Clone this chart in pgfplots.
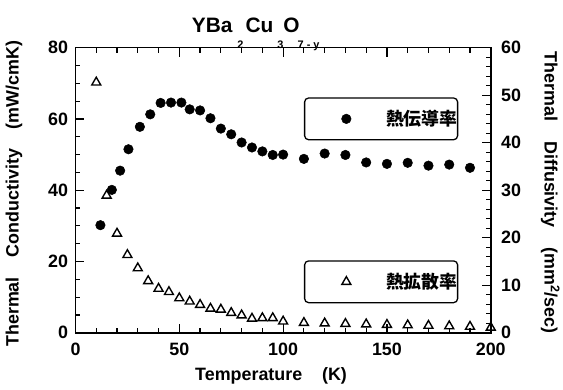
\documentclass[border=0pt]{standalone}
\usepackage{pgfplots}
\pgfplotsset{compat=1.18}
\usepackage{fontspec}
\setmainfont{Liberation Sans}
\newfontfamily\cjk{Noto Sans CJK JP}
\begin{document}
\begin{tikzpicture}
\pgfplotsset{
  common/.style={
    scale only axis, width=418pt, height=287pt,
    at={(0,0)}, anchor=south west,
    xmin=0, xmax=200,
    axis line style={line width=1.6pt},
    tick style={line width=1.2pt, black},
    major tick length=9pt, minor tick length=5pt,
    tick align=inside,
    /pgf/number format/assume math mode=true,
    ticklabel style={font=\bfseries\fontsize{18}{18}\selectfont},
    label style={font=\bfseries\fontsize{18}{18}\selectfont},
  },
  leg/.style={
    legend style={at={(axis description cs:0.5502,#1)}, anchor=north west,
      draw=black, line width=1.3pt, rounded corners=4pt, fill=white,
      inner xsep=0pt, inner ysep=0pt, nodes={inner sep=0pt, draw=none, fill=none},
      font=\cjk\bfseries\fontsize{18}{18}\selectfont},
  },
}
\begin{axis}[common, leg=0.8258,
  ymin=0, ymax=80,
  xtick={0,50,100,150,200}, minor x tick num=4,
  ytick={0,20,40,60,80}, minor y tick num=3,
  ytick pos=left, xtick pos=both,
  xticklabel pos=bottom,
  xticklabel style={yshift=-7pt},
  yticklabel style={xshift=-4pt},
  xlabel={Temperature\hspace{20pt}(K)},
  xlabel style={at={(axis description cs:0.2799,-0.1672)}, anchor=base west},
  ylabel={Thermal\hspace{20pt}Conductivity\hspace{20pt}(mW/cmK)},
  ylabel style={at={(axis description cs:-0.1483,0.4878)}, anchor=center},
  legend image code/.code={\path[draw=none,fill=none] (-42pt,-21pt) rectangle (40pt,21pt); \draw[#1] plot coordinates {(0pt,0pt)};},
  clip=false,
]
\addplot[only marks, mark=*, mark size=4.8pt, mark options={fill=black, draw=black, line width=0.5pt, solid}]
coordinates {
(12,30.2) (17.5,40.1) (21.5,45.5) (25.5,51.5) (31,57.8) (36,61.3) (41,64.5) (46,64.6) (51,64.6)
(55,62.7) (60,62.4) (65,60.2) (70,57.3) (75,55.7) (80,53.4) (85,52.0) (90,50.9) (95,49.9) (100,50.0)
(110,48.8) (120,50.3) (130,49.9) (140,47.8) (150,47.4) (160,47.7) (170,46.9) (180,47.2) (190,46.3)
};
\addlegendentry{熱伝導率\hspace{12pt}}
\end{axis}
\begin{axis}[common, leg=0.2544,
  ymin=0, ymax=60,
  axis x line=none,
  axis y line*=right,
  ytick={0,10,20,30,40,50,60}, minor y tick num=4,
  yticklabel style={xshift=7pt},
  ylabel={Thermal\hspace{20pt}Diffusivity\hspace{20pt}(mm$^{\mathbf{2}}$/sec)},
  ylabel style={at={(axis description cs:1.1435,0.4913)}, anchor=center, rotate=180},
  legend image code/.code={\path[draw=none,fill=none] (-42pt,-21pt) rectangle (40pt,21pt); \draw[#1] plot coordinates {(0pt,0pt)};},
  clip=false,
]
\addplot[only marks, mark=triangle, mark size=5.2pt, mark options={draw=black, fill=white, line width=1.4pt, solid}]
coordinates {
(10,52.7) (15,28.9) (20,20.9) (25,16.4) (30,13.6) (35,10.9) (40,9.3) (45,8.6) (50,7.3) (55,6.6)
(60,5.9) (65,5.1) (70,4.9) (75,4.2) (80,3.7) (85,3.0) (90,3.1) (95,3.1) (100,2.4)
(110,2.1) (120,2.0) (130,1.9) (140,1.8) (150,1.7) (160,1.6) (170,1.5) (180,1.4) (190,1.3) (200,1.1)
};
\addlegendentry{熱拡散率\hspace{12pt}}
\end{axis}
\node[anchor=base west, font=\bfseries\fontsize{21}{21}\selectfont, inner sep=0pt] at (117pt,302pt)
  {YBa\hspace{5pt}\raisebox{-16pt}{\fontsize{11}{11}\selectfont 2}\hspace{2pt}Cu\hspace{4pt}\raisebox{-16pt}{\fontsize{11}{11}\selectfont 3}\hspace{0pt}O\hspace{-2pt}\raisebox{-16pt}{\fontsize{11}{11}\selectfont 7 - y}};
\path (-76pt,-57pt) rectangle (487pt,335pt);
\end{tikzpicture}
\end{document}
